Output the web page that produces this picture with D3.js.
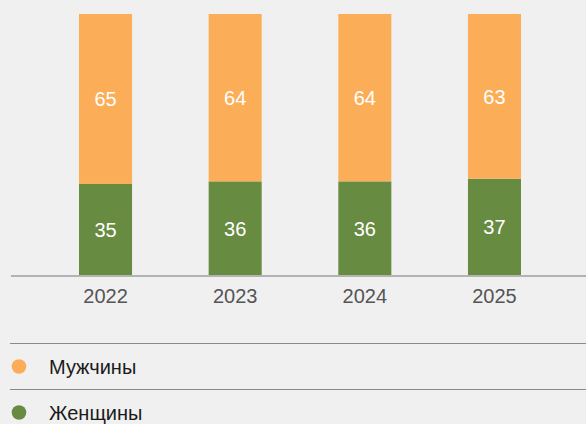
<!DOCTYPE html>
<head>
  <meta charset="utf-8">
  <script src="https://d3js.org/d3.v7.min.js"></script>
  <style>
    body { margin: 0; background: #f0f0f0; font-family: 'Liberation Sans', Arial, sans-serif; }
  </style>
</head>
<body>
  <div id="my_dataviz"></div>
</body>
<script>

  // data
  var years = ["2022", "2023", "2024", "2025"];
  var women = [35, 36, 36, 37];
  var men = [65, 64, 64, 63];
  var seriesNames = ["Мужчины", "Женщины"];
  var colors = ["#fbae57", "#688b42"];

  var width = 586, height = 424;

  var svg = d3.select("#my_dataviz")
    .append("svg")
    .attr("width", width)
    .attr("height", height);

  // scales
  var x = d3.scaleBand()
    .domain(years)
    .range([79, 521])
    .paddingInner(0.591)
    .paddingOuter(0);

  var y = d3.scaleLinear()
    .domain([0, 100])
    .range([275.5, 14]);

  var rows = years.map(function (d, i) { return { year: d, women: women[i], men: men[i] }; });
  var stack = d3.stack().keys(["women", "men"])(rows);
  var colorOf = { women: colors[1], men: colors[0] };

  var groups = svg.selectAll("g.layer")
    .data(stack)
    .enter().append("g")
    .attr("class", "layer")
    .attr("fill", function (d) { return colorOf[d.key]; });

  groups.selectAll("rect")
    .data(function (d) { return d; })
    .enter().append("rect")
    .attr("x", function (d) { return x(d.data.year); })
    .attr("y", function (d) { return y(d[1]); })
    .attr("width", x.bandwidth())
    .attr("height", function (d) { return y(d[0]) - y(d[1]); });

  // value labels
  groups.selectAll("text")
    .data(function (d) { return d; })
    .enter().append("text")
    .attr("x", function (d) { return x(d.data.year) + x.bandwidth() / 2; })
    .attr("y", function (d) { return (y(d[0]) + y(d[1])) / 2; })
    .attr("dy", "0.36em")
    .attr("text-anchor", "middle")
    .attr("fill", "#ffffff")
    .style("font-size", "20px")
    .text(function (d) { return d[1] - d[0]; });

  // x axis
  var xAxis = svg.append("g")
    .attr("transform", "translate(0," + y(0) + ")")
    .call(d3.axisBottom(x).tickSize(0).tickPadding(13));
  xAxis.select(".domain").remove();
  xAxis.append("line")
    .attr("x1", 11).attr("x2", width)
    .attr("y1", 0.5).attr("y2", 0.5)
    .attr("stroke", "#b3b3b3")
    .attr("stroke-width", 1.8);
  xAxis.selectAll("text")
    .attr("fill", "#555555")
    .style("font-size", "20px")
    .style("font-family", "'Liberation Sans', Arial, sans-serif");

  // legend
  var legend = svg.selectAll("g.legend")
    .data(seriesNames)
    .enter().append("g")
    .attr("class", "legend")
    .attr("transform", function (d, i) { return "translate(0," + (343.5 + i * 46) + ")"; });

  legend.append("line")
    .attr("x1", 10).attr("x2", width)
    .attr("y1", 0).attr("y2", 0)
    .attr("stroke", "#8a8a8a")
    .attr("stroke-width", 1);

  legend.append("circle")
    .attr("cx", 19)
    .attr("cy", 23)
    .attr("r", 7.3)
    .attr("fill", function (d, i) { return colors[i]; });

  legend.append("text")
    .attr("x", 49)
    .attr("y", 23)
    .attr("dy", "0.36em")
    .attr("fill", "#1a1a1a")
    .style("font-size", "20px")
    .text(function (d) { return d; });

</script>
